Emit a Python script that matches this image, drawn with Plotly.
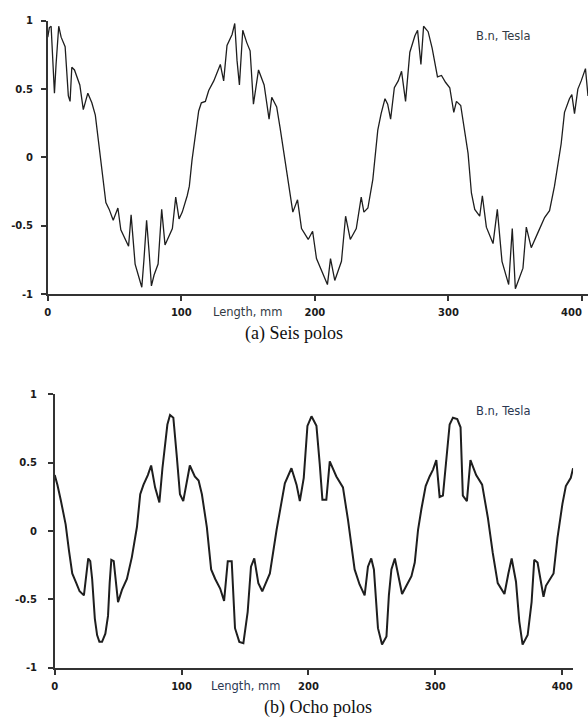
import plotly.graph_objects as go

# (a) six-pole machine: normal flux density along the gap
x_a = [0, 1.2, 2.5, 3.7, 5, 6.2, 7, 8.2, 10, 13, 15.4, 16.7, 18, 20, 24, 26.6, 30, 33,
       35.6, 37.3, 40, 41, 43.5, 46, 49, 52.5, 54.7, 60.5, 62.4, 65.4, 70.4, 72, 74,
       76, 77.6, 79.6, 82.6, 85.3, 87.8, 93.3, 95.8, 98.3, 100.7, 104.4, 106, 108,
       110.5, 113, 115, 118, 120.5, 124.3, 129.2, 131.7, 134.2, 138, 140, 141.7,
       143.5, 146, 149, 151.5, 154, 157.8, 162, 165.7, 167.7, 171.4, 173.9, 177.6,
       180, 183.5, 187, 190, 195, 198.3, 201.2, 205, 209.4, 211.7, 214.9, 219.9, 223,
       226.5, 231, 234.7, 236.7, 239.7, 243.4, 247.1, 249.6, 252.5, 254.5, 256.7,
       259.5, 262.4, 264.9, 267.9, 269.9, 271.1, 274.9, 276.9, 279.4, 281.4, 284.8,
       287.8, 291.8, 294.8, 297.8, 301, 304, 306, 309.2, 312.2, 314.7, 317.2, 319.7,
       323.4, 325.4, 328.4, 333.4, 336.6, 340.1, 345.1, 347.8, 350.1, 355.8, 358.3,
       362, 367, 372, 375.7, 379.4, 384.4, 386.9, 390.6, 392.4, 394.4, 396.9, 399.4,
       402.6, 404.5]
y_a = [0.88, 0.95, 0.96, 0.69, 0.47, 0.68, 0.82, 0.96, 0.88, 0.81, 0.45, 0.41, 0.66,
       0.64, 0.53, 0.35, 0.47, 0.40, 0.31, 0.17, -0.04, -0.14, -0.33, -0.38, -0.46,
       -0.37, -0.53, -0.65, -0.42, -0.78, -0.95, -0.75, -0.46, -0.71, -0.94, -0.86,
       -0.78, -0.38, -0.64, -0.52, -0.29, -0.45, -0.40, -0.28, -0.21, -0.02, 0.17,
       0.34, 0.40, 0.41, 0.49, 0.56, 0.68, 0.56, 0.82, 0.90, 0.98, 0.71, 0.53, 0.93,
       0.84, 0.78, 0.39, 0.64, 0.53, 0.28, 0.44, 0.37, 0.22, -0.02, -0.19, -0.40,
       -0.31, -0.52, -0.60, -0.54, -0.74, -0.83, -0.93, -0.74, -0.90, -0.76, -0.43,
       -0.60, -0.52, -0.29, -0.40, -0.37, -0.16, 0.20, 0.32, 0.43, 0.39, 0.28, 0.51,
       0.56, 0.63, 0.41, 0.66, 0.77, 0.89, 0.93, 0.68, 0.96, 0.92, 0.80, 0.59, 0.60,
       0.55, 0.51, 0.33, 0.41, 0.38, 0.20, 0.03, -0.26, -0.38, -0.43, -0.28, -0.51,
       -0.63, -0.38, -0.76, -0.93, -0.52, -0.96, -0.81, -0.51, -0.66, -0.55, -0.44,
       -0.39, -0.21, 0.10, 0.33, 0.43, 0.46, 0.32, 0.50, 0.56, 0.65, 0.45]

# (b) eight-pole machine
x_b = [0, 2.1, 4.7, 8.6, 11.2, 13.8, 17, 19.6, 23, 24.8, 26.4, 28, 29.5, 31.6, 33.4,
       35.2, 37.3, 39.9, 42, 43.3, 44.6, 46.5, 49.9, 53, 56.9, 60.8, 64.8, 67.4, 70,
       73.4, 76, 79.1, 82.5, 84.9, 87, 88.8, 90.9, 93.5, 96.1, 98.7, 101.3, 103.9,
       106.5, 110.4, 113.4, 116, 119.9, 123.3, 126.5, 130.4, 133.5, 136.4, 139.5,
       142.1, 145.5, 148.7, 152.1, 154.7, 157.3, 160.5, 163.6, 169.6, 174.9, 181.4,
       186.6, 190.6, 193.2, 196.3, 199.2, 202.4, 206.3, 208.9, 211, 214.1, 216.8,
       222, 227.2, 231.2, 236.4, 240.3, 244.3, 246.9, 249.5, 251.6, 254.8, 258,
       261.5, 263.4, 265.4, 268.1, 270.7, 273.8, 277.2, 281.2, 283.8, 286.4, 289,
       292.4, 295.5, 298.2, 300.8, 303.4, 306, 308.6, 311.3, 313.9, 317.3, 319.9,
       321.7, 324.9, 327.7, 332.2, 336.9, 341.4, 345.3, 349.2, 354.5, 357.6, 360.2,
       363.6, 366.2, 368.8, 372.8, 375.9, 378, 380.6, 385.3, 387.2, 393.2, 396.3,
       400.2, 402.9, 406.8, 408.6]
y_b = [0.41, 0.34, 0.23, 0.05, -0.14, -0.31, -0.38, -0.44, -0.47, -0.34, -0.20,
       -0.22, -0.35, -0.64, -0.76, -0.81, -0.81, -0.75, -0.62, -0.38, -0.21, -0.22,
       -0.52, -0.43, -0.35, -0.19, 0.03, 0.27, 0.34, 0.41, 0.48, 0.32, 0.21, 0.46,
       0.65, 0.78, 0.85, 0.83, 0.56, 0.27, 0.22, 0.36, 0.48, 0.40, 0.37, 0.27, 0.03,
       -0.28, -0.35, -0.42, -0.51, -0.22, -0.22, -0.71, -0.81, -0.82, -0.59, -0.26,
       -0.20, -0.38, -0.44, -0.31, 0.01, 0.35, 0.46, 0.34, 0.22, 0.39, 0.77, 0.84,
       0.77, 0.49, 0.23, 0.23, 0.51, 0.40, 0.32, 0.08, -0.28, -0.39, -0.47, -0.26,
       -0.20, -0.28, -0.71, -0.83, -0.77, -0.47, -0.28, -0.20, -0.31, -0.46, -0.40,
       -0.33, -0.23, 0.01, 0.16, 0.33, 0.40, 0.45, 0.52, 0.25, 0.26, 0.49, 0.78,
       0.83, 0.82, 0.76, 0.26, 0.22, 0.52, 0.41, 0.34, 0.10, -0.16, -0.38, -0.46,
       -0.31, -0.20, -0.37, -0.66, -0.83, -0.76, -0.52, -0.21, -0.23, -0.48, -0.40,
       -0.31, -0.05, 0.20, 0.33, 0.39, 0.46]

x_ticks = [0, 100, 200, 300, 400]
x_tick_labels = ["0", "100", "200", "300", "400"]
y_ticks = [-1, -0.5, 0, 0.5, 1]
y_tick_labels = ["-1", "-0.5", "0", "0.5", "1"]

W, H = 588, 723
tick_font = dict(family="DejaVu Sans", size=10, color="#1a1a1a", weight="bold")
label_font_a = dict(family="DejaVu Sans", size=11.5, color="#333a44")
label_font_b = dict(family="DejaVu Sans", size=11.5, color="#2b3752")
caption_font = dict(family="Liberation Serif", size=18, color="#111111")

fig = go.Figure()
fig.add_trace(go.Scatter(x=x_a, y=y_a, mode="lines", xaxis="x", yaxis="y",
                         line=dict(color="#1e1e1e", width=1.3), showlegend=False))
fig.add_trace(go.Scatter(x=x_b, y=y_b, mode="lines", xaxis="x2", yaxis="y2",
                         line=dict(color="#1e1e1e", width=2.0), showlegend=False))

axis_common = dict(showgrid=False, zeroline=False, showline=True, linecolor="#333",
                   linewidth=1.5, ticks="outside", ticklen=5, tickwidth=1.5,
                   tickcolor="#333", tickfont=tick_font, fixedrange=True)


def px_x(p):
    return p / W


def px_y(p):
    return 1 - p / H


# the top panel runs to the right edge, so its last tick label is set
# flush against the edge as a separate text item
top_tick_labels = x_tick_labels[:-1] + [""]

fig.update_layout(
    width=W, height=H,
    margin=dict(l=0, r=0, t=0, b=0),
    paper_bgcolor="white", plot_bgcolor="white",
    xaxis=dict(domain=[px_x(45), 1.0], range=[0, 404.5], anchor="y",
               tickvals=x_ticks, ticktext=top_tick_labels, ticklabelstandoff=3,
               **axis_common),
    yaxis=dict(domain=[px_y(293), px_y(15)], range=[-1, 1], anchor="x",
               tickvals=y_ticks, ticktext=y_tick_labels, ticklabelstandoff=6,
               **axis_common),
    xaxis2=dict(domain=[px_x(52), px_x(573)], range=[0, 408.6], anchor="y2",
                tickvals=x_ticks, ticktext=x_tick_labels, ticklabelstandoff=3,
                **axis_common),
    yaxis2=dict(domain=[px_y(673), px_y(395)], range=[-1, 1], anchor="x2",
                tickvals=y_ticks, ticktext=y_tick_labels, ticklabelstandoff=9,
                **axis_common),
)

annotations = [
    dict(text="B.n, Tesla", x=px_x(503), y=px_y(30), font=label_font_a),
    dict(text="Length, mm", x=px_x(246), y=px_y(311), font=label_font_a),
    dict(text="(a) Seis polos", x=px_x(292), y=px_y(333), font=caption_font),
    dict(text="B.n, Tesla", x=px_x(503), y=px_y(412), font=label_font_b),
    dict(text="Length, mm", x=px_x(244), y=px_y(691), font=label_font_b),
    dict(text="(b) Ocho polos", x=px_x(317), y=px_y(713), font=caption_font),
    dict(text=x_tick_labels[-1], x=px_x(571), y=px_y(312), font=tick_font),
]
for a in annotations:
    fig.add_annotation(xref="paper", yref="paper", showarrow=False,
                       xanchor="center", yanchor="middle", **a)

fig.write_html("out.html")
